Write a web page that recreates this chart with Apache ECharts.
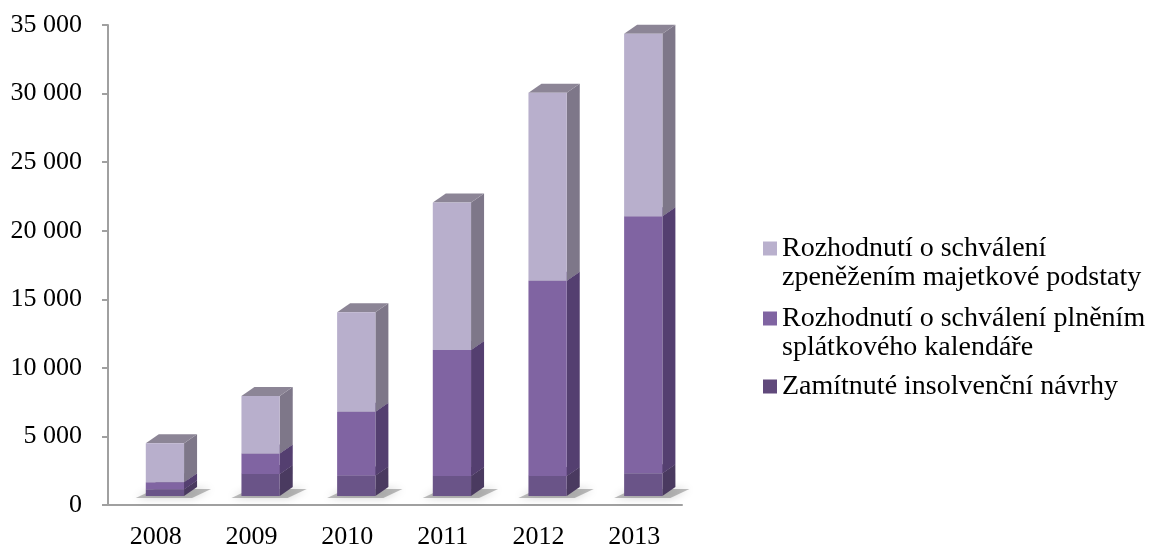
<!DOCTYPE html>
<html>
<head>
<meta charset="utf-8">
<script src="https://cdn.jsdelivr.net/npm/echarts@6/dist/echarts.min.js"></script>
<style>
  html, body { margin: 0; padding: 0; background: #fff; }
  #chart { width: 1149px; height: 550px; }
</style>
</head>
<body>
<div id="chart"></div>
<script>
// data
const years = ['2008', '2009', '2010', '2011', '2012', '2013']
const zamitnute = [500, 1600, 1500, 1450, 1450, 1650]
const splatkovy = [500, 1500, 4650, 9200, 14250, 18750]
const zpenezeni = [2850, 4200, 7250, 10750, 13700, 13300]
const yTicks = [0, 5000, 10000, 15000, 20000, 25000, 30000, 35000]

const names = [
  'Zamítnuté insolvenční návrhy',
  'Rozhodnutí o schválení plněním splátkového kalendáře',
  'Rozhodnutí o schválení zpeněžením majetkové podstaty'
]
// leading blank line keeps the swatch level with the first text line
const wrapped = {
  'Zamítnuté insolvenční návrhy': 'Zamítnuté insolvenční návrhy',
  'Rozhodnutí o schválení plněním splátkového kalendáře': '\nRozhodnutí o schválení plněním\nsplátkového kalendáře',
  'Rozhodnutí o schválení zpeněžením majetkové podstaty': '\nRozhodnutí o schválení\nzpeněžením majetkové podstaty'
}

// front / side / top colours of each stack part
const faces = [
  { front: '#6a5488', side: '#4a3a60', top: '#5b4875', legend: '#60497b' },
  { front: '#8064a2', side: '#543f70', top: '#6a5388', legend: '#8064a2' },
  { front: '#b8afcc', side: '#7e7789', top: '#8c8596', legend: '#b9b0cd' }
]

const FONT = "'Liberation Serif', 'Times New Roman', serif"

// stack the parts
const parts = [zamitnute, splatkovy, zpenezeni]
const base = years.map(() => 0)
const stacked = parts.map(vals => {
  const rows = vals.map((v, i) => [i, base[i], base[i] + v])
  vals.forEach((v, i) => { base[i] += v })
  return rows
})

function makeRender(k) {
  const c = faces[k]
  return function (params, api) {
    const i = api.value(0)
    const p0 = api.coord([i, api.value(1)])
    const p1 = api.coord([i, api.value(2)])
    const band = api.size([1, 0])[0]
    const L = p0[0] - band * 0.105
    const R = L + band * 0.40
    const dx = band * 0.136
    const dy = 9
    const yb = p0[1] - 9
    const yt = p1[1] - 9
    const kids = []
    if (k === 0) {
      kids.push({
        type: 'polygon',
        shape: { points: [[L - 10, yb + 2], [R + 8, yb + 2], [R + dx + 14, yb - dy + 2], [L + dx - 4, yb - dy + 2]] },
        style: { fill: 'rgba(70,70,70,0.35)', shadowBlur: 8, shadowColor: 'rgba(0,0,0,0.5)' },
        silent: true
      })
    }
    kids.push({
      type: 'polygon',
      shape: { points: [[R, yb], [R + dx, yb - dy], [R + dx, yt - dy], [R, yt]] },
      style: { fill: c.side }
    })
    kids.push({
      type: 'polygon',
      shape: { points: [[L, yt], [R, yt], [R + dx, yt - dy], [L + dx, yt - dy]] },
      style: { fill: c.top }
    })
    kids.push({
      type: 'rect',
      shape: { x: L, y: yt, width: R - L, height: yb - yt },
      style: { fill: c.front }
    })
    return { type: 'group', children: kids }
  }
}

const chart = echarts.init(document.getElementById('chart'))

const legendTops = [367, 270, 200]
const legends = [2, 1, 0].map(k => ({
  orient: 'vertical',
  left: 758,
  top: legendTops[k],
  itemWidth: 14,
  itemHeight: 14,
  itemGap: 0,
  icon: 'rect',
  selectedMode: false,
  data: [{ name: names[k] }],
  formatter: n => wrapped[n],
  textStyle: {
    fontFamily: FONT,
    fontSize: 28,
    lineHeight: 29,
    color: '#000'
  }
}))

chart.setOption({
  animation: false,
  backgroundColor: '#fff',
  grid: { left: 108, right: 467, top: 25, bottom: 43 },
  legend: legends,
  xAxis: {
    type: 'category',
    data: years,
    axisLine: { lineStyle: { color: '#a0a0a0', width: 2 } },
    axisTick: { length: 6, lineStyle: { color: '#a0a0a0', width: 2 } },
    axisLabel: { fontFamily: FONT, fontSize: 26, color: '#000', margin: 19 }
  },
  yAxis: {
    type: 'value',
    min: yTicks[0],
    max: yTicks[yTicks.length - 1],
    interval: 5000,
    splitLine: { show: false },
    axisLine: { show: true, lineStyle: { color: '#a0a0a0', width: 2 } },
    axisTick: { show: true, length: 6, lineStyle: { color: '#a0a0a0', width: 2 } },
    axisLabel: {
      fontFamily: FONT, fontSize: 26, color: '#000', margin: 26,
      formatter: v => String(v).replace(/\B(?=(\d{3})+(?!\d))/g, ' ')
    }
  },
  series: stacked.map((rows, k) => ({
    name: names[k],
    type: 'custom',
    itemStyle: { color: faces[k].legend },
    encode: { x: 0, y: [1, 2] },
    renderItem: makeRender(k),
    data: rows
  }))
})
</script>
</body>
</html>
